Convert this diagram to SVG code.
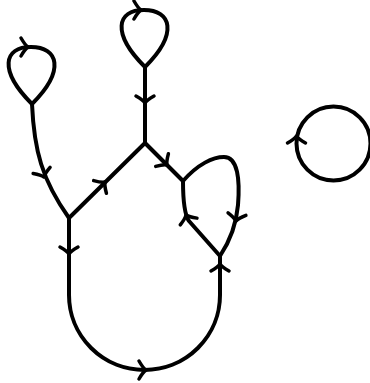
<svg xmlns="http://www.w3.org/2000/svg" xmlns:xlink="http://www.w3.org/1999/xlink" width="370" height="383" viewBox="0 0 370 383">
<style>
.e{fill:none;stroke:#000;stroke-width:4;stroke-linecap:round;stroke-linejoin:round}
.a{fill:none;stroke:#000;stroke-width:3.5;stroke-linecap:round;stroke-linejoin:round}
</style>
<defs>
<path id="ah" class="a" d="M-7,-9 Q-3,-2 0,0 Q-3,2 -7,9"/>
</defs>
<rect width="370" height="383" fill="#fff"/>
<g id="nodeA">
<path class="e" d="M32,104 C-2,70 4,47 31,47 C58,47 66,70 32,104"/>
<use xlink:href="#ah" transform="translate(28,47)"/>
</g>
<g id="nodeB">
<path class="e" d="M145,67 C111,33 117,10 144,10 C171,10 179,33 145,67"/>
<use xlink:href="#ah" transform="translate(141,10)"/>
</g>
<g id="nodeC"></g>
<g id="nodeD"></g>
<g id="nodeE"></g>
<g id="nodeF"></g>
<g id="nodeG">
<circle class="e" cx="333.5" cy="143.5" r="37"/>
<use xlink:href="#ah" transform="translate(296.5,136) rotate(-90)"/>
</g>
<g id="connectors">
<path class="e" d="M32,104 C34,150 42,180 69,218"/>
<use xlink:href="#ah" transform="translate(44,177) rotate(70)"/>
<path class="e" d="M69,218 L145,143"/>
<use xlink:href="#ah" transform="translate(105,182) rotate(-45)"/>
<path class="e" d="M145,67 L145,143"/>
<use xlink:href="#ah" transform="translate(145,103) rotate(90)"/>
<path class="e" d="M145,143 L183,181"/>
<use xlink:href="#ah" transform="translate(167,165) rotate(45)"/>
<path class="e" d="M183,181 C198,164 213,157 224,157 C238,157 240,180 238,205 C236,228 228,244 220,256"/>
<use xlink:href="#ah" transform="translate(236,221) rotate(98)"/>
<path class="e" d="M220,256 L189,221 C184,214 183,200 183,181"/>
<use xlink:href="#ah" transform="translate(186,215) rotate(-112)"/>
<path class="e" d="M69,218 L69,295 A75.5,75 0 0 0 144.5,370 A75.5,75 0 0 0 220,295 L220,256"/>
<use xlink:href="#ah" transform="translate(69,254) rotate(90)"/>
<use xlink:href="#ah" transform="translate(146,370)"/>
<use xlink:href="#ah" transform="translate(220,264) rotate(-90)"/>
</g>
</svg>
